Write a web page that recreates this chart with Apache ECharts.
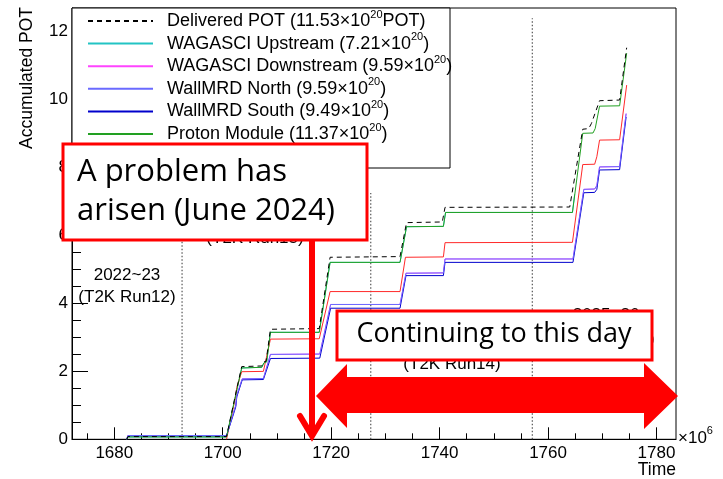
<!DOCTYPE html>
<html><head><meta charset="utf-8">
<script src="https://cdn.jsdelivr.net/npm/echarts@6/dist/echarts.min.js"></script>
<style>html,body{margin:0;padding:0;background:#fff}#c{width:723px;height:479px}</style>
</head><body><div id="c"></div>
<script>
// ---- data (time in 10^6 s, accumulated POT in 10^20) ----
const delivered = [[1682.3,0],[1682.5,0.08],[1700.7,0.08],[1702.6,1.5],[1703.5,2.14],[1707.2,2.16],[1707.6,2.28],[1708.0,2.30],[1708.8,3.24],[1717.8,3.26],[1719.8,5.36],[1732.7,5.38],[1733.9,6.38],[1740.5,6.40],[1741.0,6.83],[1764.0,6.84],[1766.4,9.13],[1767.5,9.15],[1768.0,9.30],[1769.5,9.97],[1773.2,9.99],[1774.5,11.53]];
const wagasciUp = [[1682.3,0],[1682.5,0.07],[1700.7,0.07],[1702.6,1.45],[1703.5,2.10],[1707.2,2.12],[1707.6,2.25],[1708.1,2.28],[1708.8,3.15],[1717.8,3.15],[1719.8,5.21],[1732.7,5.21],[1733.9,6.26],[1740.7,6.27],[1741.1,6.68],[1764.5,6.68],[1764.9,7.21]];
const wagasciDown = [[1682.3,0],[1682.5,0.11],[1700.7,0.11],[1702.4,1.0],[1702.6,1.30],[1702.9,1.32],[1703.6,1.78],[1707.5,1.79],[1708.8,2.50],[1717.9,2.51],[1719.9,3.97],[1732.7,3.97],[1733.8,4.89],[1740.7,4.90],[1741.0,5.31],[1764.6,5.31],[1766.6,7.36],[1768.6,7.37],[1769.0,7.47],[1769.5,8.02],[1773.2,8.03],[1774.4,9.59]];
const redLine = [[1700.7,0],[1702.3,1.2],[1702.6,1.53],[1702.9,1.55],[1703.5,1.99],[1707.5,2.00],[1708.8,2.95],[1717.8,2.96],[1719.8,4.35],[1732.7,4.35],[1733.7,5.36],[1740.7,5.37],[1741.0,5.79],[1764.5,5.80],[1766.4,8.09],[1768.6,8.10],[1769.0,8.32],[1769.5,8.81],[1773.2,8.82],[1774.5,10.43]];
const wallNorth = [[1682.3,0],[1682.5,0.11],[1700.7,0.11],[1702.4,1.0],[1702.6,1.30],[1702.9,1.32],[1703.6,1.78],[1707.5,1.79],[1708.8,2.50],[1717.9,2.51],[1719.9,3.97],[1732.7,3.97],[1733.8,4.89],[1740.7,4.90],[1741.0,5.31],[1764.6,5.31],[1766.6,7.36],[1768.6,7.37],[1769.0,7.47],[1769.5,8.02],[1773.2,8.03],[1774.4,9.59]];
const wallSouth = [[1682.3,0],[1682.5,0.10],[1700.7,0.10],[1702.4,0.95],[1702.6,1.25],[1702.9,1.28],[1703.6,1.75],[1707.5,1.76],[1708.8,2.38],[1717.9,2.39],[1719.9,3.86],[1732.7,3.86],[1733.8,4.82],[1740.7,4.82],[1741.0,5.21],[1764.6,5.21],[1766.6,7.26],[1768.6,7.27],[1769.0,7.36],[1769.5,7.93],[1773.2,7.94],[1774.4,9.49]];
const protonModule = [[1682.3,0],[1682.5,0.07],[1700.7,0.07],[1702.6,1.45],[1703.5,2.10],[1707.2,2.12],[1707.6,2.25],[1708.1,2.28],[1708.8,3.15],[1717.8,3.15],[1719.8,5.21],[1732.7,5.21],[1733.9,6.26],[1740.7,6.27],[1741.1,6.68],[1764.5,6.68],[1766.4,9.01],[1768.3,9.02],[1768.7,9.15],[1769.5,9.81],[1773.2,9.82],[1774.5,11.37]];
const periodLineX = [1692.5, 1727.3, 1757.1];
const periodLineTop = [8.0, 7.25, 12.4];
const xMajorTicks = [1680,1700,1720,1740,1760,1780];
const xMinorTicks = [1675,1685,1690,1695,1705,1710,1715,1725,1730,1735,1745,1750,1755,1765,1770,1775];
const yMajorTicks = [0,2,4,6,8,10,12];
const yMinorTicks = [0.5,1,1.5,2.5,3,3.5,4.5,5,5.5,6.5,7,7.5,8.5,9,9.5,10.5,11,11.5,12.5];
const legendNames = ['Delivered POT','WAGASCI Upstream','WAGASCI Downstream','WallMRD North','WallMRD South','Proton Module'];
const legendValues = ['11.53','7.21','9.59','9.59','9.49','11.37'];
const periodYears = ['2022~23','2023~24','2024~25','2025~26'];
const periodRuns = ['(T2K Run12)','(T2K Run13)','(T2K Run14)','(T2K Run15)'];

const FONT = '"Liberation Sans", Arial, sans-serif';
const chart = echarts.init(document.getElementById('c'), null, {renderer:'canvas'});

function lineSeries(name, data, color, z, dashed){
  return {type:'line', name:name, data:data, symbol:'none', showSymbol:false, silent:true, z:z,
    animation:false, clip:true,
    lineStyle:{color:color, width:1, type: dashed ? [5,4] : 'solid'}, itemStyle:{color:color}};
}
const series = [
  lineSeries('WAGASCI Upstream', wagasciUp, '#22c4c4', 2),
  lineSeries('WAGASCI Downstream', wagasciDown, '#ff44ff', 2),
  lineSeries('Other', redLine, '#ff2a2a', 2),
  lineSeries('WallMRD South', wallSouth, '#0000cc', 2),
  lineSeries('WallMRD North', wallNorth, '#6a6aff', 2),
  lineSeries('Proton Module', protonModule, '#22a022', 2),
  lineSeries('Delivered POT', delivered, '#000000', 2, true)
];
periodLineX.forEach((x,i)=>{
  series.push({type:'line', data:[[x,0],[x,periodLineTop[i]]], symbol:'none', silent:true, z:1, animation:false,
    lineStyle:{color:'#555', width:1.2, type:[1.5,2]}});
});

const rich = {
  a:{fontSize:18, fontFamily:FONT, color:'#000', lineHeight:18},
  s:{fontSize:11, fontFamily:FONT, color:'#000', lineHeight:18, verticalAlign:'top', padding:[-3,0,0,0]}
};
function legendFmt(name){
  const i = legendNames.indexOf(name);
  if(i===0) return '{a|Delivered POT ('+legendValues[0]+'×10}{s|20}{a|POT)}';
  return '{a|'+name+' ('+legendValues[i]+'×10}{s|20}{a|)}';
}

const labelFont = '17px ' + FONT;
const graphics = [
  {type:'rect', z:3, shape:{x:72,y:8,width:378,height:160}, style:{fill:'#fff', stroke:'#000', lineWidth:1}},
  {type:'text', z:5, x:27, y:7, rotation:Math.PI/2, style:{text:'Accumulated POT', font:'17.5px '+FONT, fill:'#000', align:'right', verticalAlign:'middle'}},
  {type:'text', z:5, x:676, y:470, style:{text:'Time', font:'17.5px '+FONT, fill:'#000', align:'right', verticalAlign:'middle'}},
  {type:'text', z:5, x:678, y:438, style:{text:'{a|×10}{b|6}', fill:'#000', align:'left', verticalAlign:'middle',
     rich:{a:{font:'17px '+FONT, lineHeight:18}, b:{font:'11px '+FONT, lineHeight:18, verticalAlign:'top', padding:[-4,0,0,0]}}}}
];
const periodPos = [[127,275,297],[255,215,238],[452,341,364],[606,315,339]];
periodPos.forEach((p,i)=>{
  graphics.push({type:'text', z:3, x:p[0], y:p[1], style:{text:periodYears[i], font:labelFont, fill:'#000', align:'center', verticalAlign:'middle'}});
  graphics.push({type:'text', z:3, x:p[0], y:p[2], style:{text:periodRuns[i], font:labelFont, fill:'#000', align:'center', verticalAlign:'middle'}});
});
const OFONT = '"Open Sans", "Noto Sans", sans-serif';
graphics.push(
  {type:'rect', z:10, shape:{x:63,y:144,width:304,height:96}, style:{fill:'#fff', stroke:'#ff0000', lineWidth:3}},
  {type:'text', z:11, x:77, y:172, style:{text:'A problem has', font:'31px '+OFONT, fill:'#000', align:'left', verticalAlign:'middle'}},
  {type:'text', z:11, x:77, y:211, style:{text:'arisen (June 2024)', font:'31px '+OFONT, fill:'#000', align:'left', verticalAlign:'middle'}},
  {type:'line', z:10, shape:{x1:312,y1:241,x2:312,y2:433}, style:{stroke:'#ff0000', lineWidth:6}},
  {type:'polyline', z:10, shape:{points:[[300,416],[312,436],[324,416]]}, style:{stroke:'#ff0000', lineWidth:6, lineCap:'round', lineJoin:'miter', fill:null}},
  {type:'rect', z:10, shape:{x:337,y:311,width:315,height:49}, style:{fill:'#fff', stroke:'#ff0000', lineWidth:3}},
  {type:'text', z:11, x:494, y:334, style:{text:'Continuing to this day', font:'27px '+OFONT, fill:'#000', align:'center', verticalAlign:'middle'}},
  {type:'polygon', z:10, shape:{points:[[316,396],[347,364],[347,377],[644,377],[644,363],[678,396],[644,429],[644,413],[347,413],[347,428]]}, style:{fill:'#ff0000'}}
);

chart.setOption({
  animation:false,
  backgroundColor:'#fff',
  grid:{left:72, top:8, width:604, height:431.3, show:true, borderColor:'#000', borderWidth:1, containLabel:false},
  legend:{show:true, data:legendNames, orient:'vertical', left:87, top:9, itemWidth:65, itemHeight:18, itemGap:1.6,
    padding:0, selectedMode:false, formatter:legendFmt, itemStyle:{opacity:0},
    textStyle:{rich:rich, padding:[0,0,0,9]}, z:5},
  xAxis:[
    {type:'value', min:1672.2, max:1783.6, position:'bottom', splitLine:{show:false},
     axisLine:{show:true, lineStyle:{color:'#000', width:1}},
     axisTick:{show:true, inside:true, length:12, customValues:xMajorTicks, lineStyle:{color:'#000'}},
     axisLabel:{show:true, customValues:xMajorTicks, margin:6, fontSize:17, fontFamily:FONT, color:'#000', formatter:v=>String(v)}},
    {type:'value', min:1672.2, max:1783.6, position:'bottom', splitLine:{show:false},
     axisLine:{show:false}, axisLabel:{show:false},
     axisTick:{show:true, inside:true, length:6, customValues:xMinorTicks, lineStyle:{color:'#000'}}}
  ],
  yAxis:[
    {type:'value', min:0, max:12.7, position:'left', splitLine:{show:false},
     axisLine:{show:true, lineStyle:{color:'#000', width:1}},
     axisTick:{show:true, inside:true, length:16, customValues:yMajorTicks, lineStyle:{color:'#000'}},
     axisLabel:{show:true, customValues:yMajorTicks, margin:4, fontSize:17, fontFamily:FONT, color:'#000', formatter:v=>String(v)}},
    {type:'value', min:0, max:12.7, position:'left', splitLine:{show:false},
     axisLine:{show:false}, axisLabel:{show:false},
     axisTick:{show:true, inside:true, length:9, customValues:yMinorTicks, lineStyle:{color:'#000'}}}
  ],
  series:series,
  graphic:graphics
});
</script></body></html>
